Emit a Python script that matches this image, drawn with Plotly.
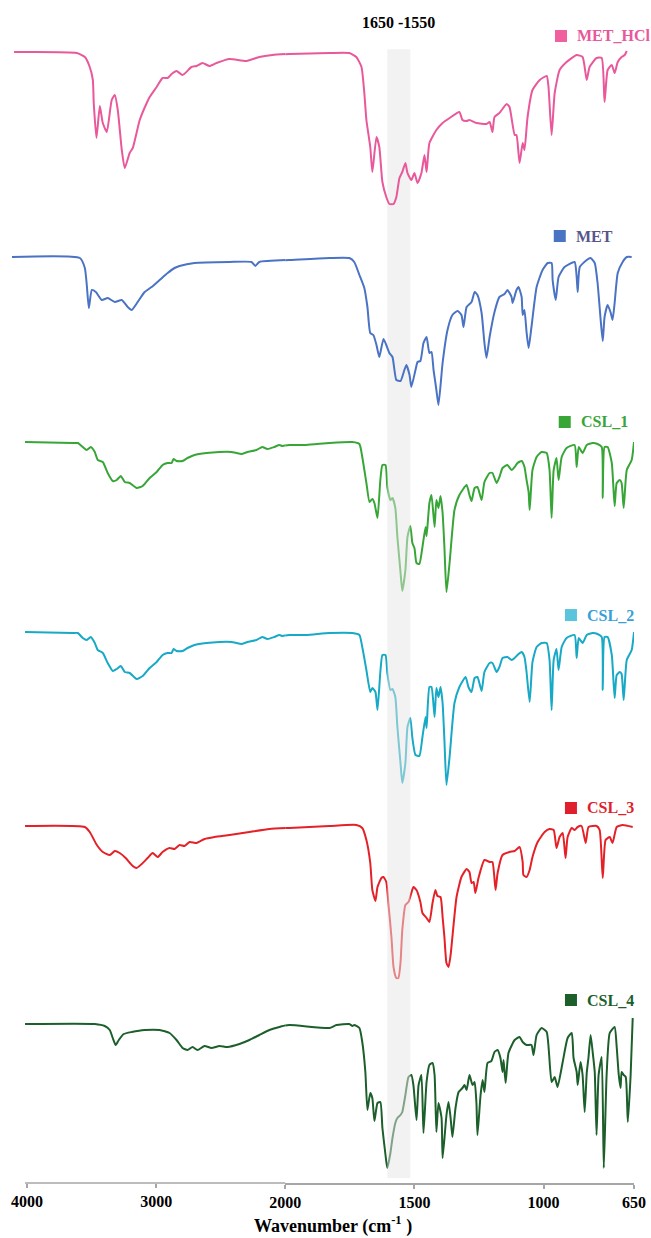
import plotly.graph_objects as go

# ---- FTIR spectra: (wavenumber in cm^-1, transmittance relative to baseline, a.u.) ----
MET_HCL = [
    (4100, 1), (3614, 0), (3552, -4), (3514, -14), (3490, -27), (3483, -50), (3462, -85),
    (3436, -53), (3413, -70), (3382, -79), (3344, -47), (3320, -42), (3297, -57), (3266, -97),
    (3243, -115), (3205, -100), (3181, -95), (3127, -67), (3073, -50), (3050, -44), (2996, -34),
    (2950, -25), (2911, -25), (2880, -21), (2842, -18), (2795, -22), (2726, -14), (2687, -13),
    (2641, -10), (2587, -13), (2533, -10), (2432, -6), (2301, -8), (2201, -4), (2100, -2),
    (1984, -1), (1829, 0), (1752, 0), (1725, -4), (1705, -14), (1694, -40), (1686, -67),
    (1671, -94), (1663, -119), (1647, -84), (1636, -94), (1624, -129), (1609, -144),
    (1597, -151), (1581, -151), (1570, -144), (1558, -125), (1547, -119), (1535, -110),
    (1527, -120), (1512, -127), (1500, -120), (1488, -130), (1473, -120), (1461, -102),
    (1453, -119), (1442, -90), (1415, -77), (1391, -70), (1364, -65), (1326, -59), (1314, -67),
    (1298, -68), (1287, -67), (1260, -70), (1221, -71), (1209, -69), (1198, -79), (1190, -64),
    (1171, -60), (1143, -51), (1132, -54), (1112, -82), (1105, -82), (1093, -110), (1081, -90),
    (1074, -97), (1062, -64), (1043, -37), (1015, -27), (988, -23), (981, -34), (969, -82),
    (957, -40), (938, -17), (911, -9), (872, -2), (849, -4), (833, -27), (822, -14), (795, -5),
    (775, -5), (764, -49), (752, -17), (736, -12), (725, -20), (713, -9), (698, -4), (686, -2),
    (678, 2),
]

MET = [
    (4116, 1), (3591, 0), (3552, -10), (3537, -27), (3521, -50), (3498, -32), (3467, -34),
    (3421, -42), (3375, -40), (3320, -44), (3266, -42), (3220, -49), (3189, -52), (3143, -44),
    (3089, -34), (3035, -29), (2973, -22), (2911, -15), (2857, -10), (2819, -8), (2703, -5),
    (2432, -4), (2262, -4), (2232, -8), (2201, -4), (1984, -2), (1829, 0), (1752, 0),
    (1733, -4), (1713, -17), (1694, -30), (1682, -49), (1671, -75), (1659, -77), (1647, -87),
    (1636, -99), (1620, -81), (1609, -87), (1597, -95), (1585, -99), (1570, -122), (1554, -123),
    (1539, -112), (1531, -107), (1519, -117), (1512, -129), (1496, -112), (1488, -104),
    (1477, -103), (1465, -85), (1453, -79), (1442, -95), (1434, -94), (1426, -112),
    (1415, -132), (1407, -147), (1391, -105), (1372, -72), (1353, -57), (1333, -53),
    (1318, -57), (1310, -69), (1298, -49), (1279, -44), (1267, -34), (1256, -37), (1240, -55),
    (1229, -85), (1221, -100), (1209, -79), (1190, -54), (1171, -39), (1151, -36), (1140, -32),
    (1124, -39), (1120, -45), (1105, -32), (1097, -29), (1085, -39), (1081, -57), (1074, -52),
    (1066, -74), (1058, -90), (1047, -69), (1027, -29), (1004, -12), (984, -5), (969, -5),
    (965, -22), (953, -42), (942, -19), (919, -9), (880, -4), (872, -19), (868, -34), (860, -9),
    (833, -2), (818, 0), (802, -5), (791, -25), (779, -62), (771, -83), (764, -59), (752, -47),
    (740, -55), (733, -62), (725, -45), (713, -15), (694, -4), (678, 1), (659, 1),
]

CSL_1 = [
    (4015, 1), (3645, 0), (3606, 0), (3568, -4), (3537, -7), (3506, -4), (3475, -9), (3452, -17),
    (3413, -19), (3375, -30), (3336, -38), (3305, -37), (3274, -33), (3243, -39), (3205, -40),
    (3151, -45), (3104, -43), (3050, -35), (2996, -29), (2950, -22), (2911, -20), (2880, -20),
    (2865, -16), (2842, -18), (2795, -18), (2757, -15), (2703, -12), (2610, -10), (2510, -9),
    (2417, -9), (2378, -10), (2340, -11), (2293, -9), (2224, -7), (2178, -4), (2139, -6),
    (2085, -4), (2046, -2), (2023, -3), (1984, -2), (1919, -2), (1829, 0), (1740, 1),
    (1713, -1), (1702, -14), (1686, -40), (1674, -59), (1663, -56), (1655, -60), (1643, -75),
    (1632, -37), (1624, -22), (1612, -22), (1605, -44), (1593, -57), (1585, -55), (1574, -65),
    (1566, -94), (1554, -129), (1547, -148), (1535, -127), (1527, -94), (1516, -83),
    (1508, -100), (1500, -105), (1492, -120), (1481, -121), (1469, -104), (1457, -84),
    (1453, -93), (1442, -60), (1434, -52), (1422, -84), (1415, -57), (1407, -65), (1399, -53),
    (1391, -70), (1384, -104), (1376, -149), (1364, -120), (1345, -67), (1326, -52),
    (1298, -42), (1287, -52), (1279, -58), (1267, -45), (1256, -44), (1240, -57), (1229, -39),
    (1209, -30), (1198, -30), (1182, -40), (1171, -34), (1159, -25), (1140, -22), (1124, -27),
    (1112, -24), (1101, -20), (1085, -18), (1074, -24), (1066, -37), (1058, -49), (1054, -67),
    (1043, -27), (1027, -14), (1008, -9), (988, -10), (977, -27), (969, -75), (961, -27),
    (950, -15), (942, -37), (930, -14), (911, -5), (880, -2), (872, -24), (864, -4), (849, -10),
    (833, -2), (810, 0), (791, -1), (775, -4), (771, -55), (764, -4), (752, -4), (736, -20),
    (725, -63), (717, -40), (705, -37), (698, -40), (690, -65), (678, -27), (659, -17),
    (650, 1),
]

CSL_2 = [
    (4015, 1), (3645, 0), (3606, 0), (3568, -5), (3537, -7), (3506, -4), (3475, -10), (3452, -17),
    (3413, -20), (3375, -30), (3336, -38), (3305, -36), (3274, -33), (3243, -39), (3205, -40),
    (3151, -46), (3104, -43), (3050, -35), (2996, -29), (2950, -22), (2911, -20), (2880, -20),
    (2865, -16), (2842, -18), (2795, -18), (2757, -15), (2703, -12), (2610, -10), (2510, -9),
    (2417, -9), (2378, -10), (2340, -11), (2293, -9), (2224, -7), (2178, -4), (2139, -6),
    (2085, -4), (2046, -2), (2023, -3), (1984, -2), (1919, -2), (1829, 0), (1740, 0),
    (1713, -2), (1702, -14), (1686, -37), (1671, -59), (1663, -55), (1651, -59), (1643, -77),
    (1632, -39), (1624, -22), (1612, -22), (1605, -40), (1593, -57), (1585, -56), (1574, -64),
    (1566, -94), (1554, -130), (1547, -150), (1535, -130), (1527, -94), (1516, -85),
    (1508, -105), (1496, -122), (1481, -123), (1469, -104), (1457, -84), (1453, -95),
    (1442, -54), (1434, -54), (1422, -84), (1415, -55), (1407, -64), (1399, -54), (1391, -70),
    (1384, -107), (1376, -152), (1364, -124), (1345, -70), (1326, -54), (1302, -44),
    (1291, -54), (1279, -59), (1267, -45), (1256, -44), (1240, -58), (1229, -39), (1209, -30),
    (1198, -30), (1182, -39), (1171, -34), (1159, -25), (1140, -24), (1124, -27), (1112, -25),
    (1101, -22), (1085, -19), (1074, -24), (1066, -39), (1054, -69), (1043, -29), (1027, -14),
    (1008, -10), (988, -10), (977, -27), (969, -77), (961, -27), (950, -16), (942, -37),
    (930, -14), (911, -5), (880, -2), (872, -25), (864, -5), (849, -10), (833, -2), (810, 0),
    (791, -1), (775, -4), (771, -57), (764, -4), (752, -4), (736, -22), (725, -65), (717, -42),
    (705, -39), (698, -41), (690, -67), (678, -27), (659, -17), (650, 1),
]

CSL_3 = [
    (4015, 0), (3552, -1), (3514, -6), (3459, -19), (3413, -26), (3359, -29), (3320, -25),
    (3282, -27), (3236, -32), (3181, -40), (3151, -42), (3112, -38), (3066, -32), (3027, -27),
    (2988, -31), (2950, -26), (2896, -22), (2857, -23), (2819, -19), (2780, -20), (2741, -16),
    (2687, -17), (2625, -13), (2548, -11), (2432, -9), (2278, -6), (2123, -3), (1984, -2),
    (1829, 0), (1725, 1), (1702, -2), (1686, -14), (1671, -37), (1663, -64), (1651, -75),
    (1643, -61), (1628, -52), (1620, -51), (1609, -56), (1601, -77), (1589, -111), (1581, -141),
    (1570, -152), (1562, -152), (1554, -137), (1547, -104), (1535, -79), (1523, -76),
    (1512, -67), (1504, -61), (1492, -64), (1477, -76), (1469, -87), (1453, -92), (1442, -96),
    (1430, -77), (1419, -64), (1411, -70), (1399, -71), (1391, -91), (1384, -111),
    (1376, -137), (1368, -141), (1360, -129), (1353, -111), (1337, -71), (1318, -51),
    (1298, -43), (1287, -46), (1279, -57), (1271, -56), (1264, -67), (1252, -52), (1229, -34),
    (1209, -36), (1198, -36), (1186, -64), (1178, -47), (1159, -29), (1132, -26), (1112, -25),
    (1093, -21), (1081, -36), (1078, -49), (1066, -51), (1054, -44), (1043, -31), (1023, -16),
    (996, -6), (977, -3), (961, -4), (950, -22), (938, -11), (926, -7), (915, -32), (907, -11),
    (891, -2), (880, -4), (868, -1), (853, 0), (837, -17), (826, -1), (795, 0), (783, -4),
    (771, -52), (760, -14), (744, -11), (733, -17), (717, -1), (694, 1), (655, -1),
]

CSL_4 = [
    (4015, 1), (3475, 1), (3398, -1), (3359, -5), (3336, -13), (3313, -20), (3289, -15),
    (3251, -9), (3189, -7), (3089, -5), (2973, -5), (2896, -8), (2842, -15), (2795, -23),
    (2757, -25), (2718, -22), (2680, -25), (2625, -21), (2572, -23), (2510, -21), (2448, -22),
    (2355, -19), (2278, -15), (2201, -10), (2123, -5), (2046, -2), (1984, 0), (1829, -3),
    (1802, 0), (1752, 1), (1740, -1), (1733, 0), (1713, -3), (1702, -17), (1690, -47),
    (1682, -85), (1671, -68), (1663, -73), (1655, -96), (1643, -78), (1632, -77), (1624, -103),
    (1612, -130), (1605, -143), (1593, -128), (1585, -113), (1574, -98), (1566, -93),
    (1554, -90), (1547, -87), (1535, -70), (1523, -52), (1512, -50), (1504, -60), (1492, -95),
    (1484, -60), (1473, -50), (1465, -108), (1453, -57), (1442, -40), (1430, -38), (1422, -50),
    (1415, -107), (1407, -78), (1395, -93), (1391, -133), (1376, -90), (1368, -77), (1360, -93),
    (1353, -112), (1341, -83), (1329, -67), (1314, -63), (1306, -60), (1298, -65), (1287, -50),
    (1275, -60), (1267, -57), (1260, -78), (1256, -110), (1244, -70), (1236, -55), (1229, -67),
    (1217, -38), (1202, -36), (1190, -27), (1178, -25), (1167, -33), (1159, -47), (1155, -35),
    (1147, -58), (1136, -28), (1112, -15), (1093, -12), (1081, -17), (1066, -20), (1047, -20),
    (1039, -30), (1027, -10), (1008, -3), (988, -7), (969, -57), (957, -52), (946, -62),
    (926, -37), (907, -13), (891, -8), (884, -33), (872, -47), (868, -60), (857, -37),
    (849, -50), (841, -87), (833, -48), (826, -32), (818, -10), (810, -27), (802, -47),
    (795, -110), (787, -50), (775, -32), (767, -143), (756, -50), (744, -8), (725, -2),
    (717, -22), (709, -50), (702, -63), (698, -47), (690, -50), (682, -52), (674, -97),
    (663, -50), (655, 7),
]

SERIES = {
    "MET_HCl": MET_HCL,
    "MET": MET,
    "CSL_1": CSL_1,
    "CSL_2": CSL_2,
    "CSL_3": CSL_3,
    "CSL_4": CSL_4,
}

TICKS_HIGH = [4000, 3000]              # 1x scale section
TICKS_LOW = [2000, 1500, 1000, 650]    # 2x expanded section
BAND = (1605, 1516)
BAND_LABEL = "1650 -1550"
X_TITLE = "Wavenumber (cm<sup>-1</sup> )"

# ---- styling / layout ----
SPLIT = 2000          # the wavenumber scale is doubled below this value
X_START, X_END = 4116, 650
Y_SPAN = 1143
OFFSETS = {"MET_HCl": 1130, "MET": 925, "CSL_1": 740, "CSL_2": 550, "CSL_3": 357, "CSL_4": 158}
LINE_COLORS = {
    "MET_HCl": "#E8589B", "MET": "#4A73C4", "CSL_1": "#37A637",
    "CSL_2": "#17A9C5", "CSL_3": "#E52128", "CSL_4": "#1C5F2B",
}
SWATCH_COLORS = {
    "MET_HCl": "#F0609E", "MET": "#4A73C4", "CSL_1": "#37A637",
    "CSL_2": "#5BC4DC", "CSL_3": "#E01F2D", "CSL_4": "#1C5F2B",
}
TEXT_COLORS = {
    "MET_HCl": "#E8589B", "MET": "#56568C", "CSL_1": "#37A637",
    "CSL_2": "#3A9FD6", "CSL_3": "#E01F2D", "CSL_4": "#1C5F2B",
}
# label placement: paper x of the swatch, paper y of the label centre
LABEL_X = {"MET_HCl": 0.873, "MET": 0.871, "CSL_1": 0.879, "CSL_2": 0.889, "CSL_3": 0.889, "CSL_4": 0.889}
LABEL_Y = {"MET_HCl": 1.0035, "MET": 0.8285, "CSL_1": 0.6658, "CSL_2": 0.4969, "CSL_3": 0.3281, "CSL_4": 0.1601}
SWATCH = 12
SERIF = "Liberation Serif, Times New Roman, serif"
AXIS_GREY = "#A6A6A6"
BAND_GREY = "#F2F2F2"


def split_at_break(points):
    """Return the part drawn on the 1x axis and the part on the 2x axis.
    One neighbour is carried across the break so the line stays continuous."""
    high = [p for p in points if p[0] >= SPLIT]
    low = [p for p in points if p[0] <= SPLIT]
    first_low = next(p for p in points if p[0] < SPLIT)
    last_high = [p for p in points if p[0] > SPLIT][-1]
    return high + [first_low], [last_high] + low


span_high = X_START - SPLIT
span_low = SPLIT - X_END
x_break = span_high / (span_high + 2 * span_low)

fig = go.Figure()
for name, pts in SERIES.items():
    high, low = split_at_break(pts)
    for part, xa in ((high, "x"), (low, "x2")):
        fig.add_trace(go.Scatter(
            x=[p[0] for p in part],
            y=[OFFSETS[name] + p[1] for p in part],
            mode="lines", xaxis=xa, yaxis="y",
            line=dict(color=LINE_COLORS[name], width=2, shape="spline", smoothing=0.5),
            hoverinfo="skip", showlegend=False,
        ))

tickfont = dict(family=SERIF, size=16, color="black", weight="bold")
common_x = dict(ticks="outside", ticklen=4, tickcolor=AXIS_GREY, tickwidth=1.5,
                showgrid=False, zeroline=False, tickfont=tickfont,
                ticklabelstandoff=0, automargin=False, fixedrange=True)
fig.update_layout(
    width=651, height=1238,
    margin=dict(l=12, r=17, t=40, b=55, autoexpand=False),
    paper_bgcolor="white", plot_bgcolor="white",
    showlegend=False,
    xaxis=dict(domain=[0, x_break], range=[X_START, SPLIT], anchor="y",
               tickvals=TICKS_HIGH, ticktext=[str(v) for v in TICKS_HIGH],
               showline=False, **common_x),
    xaxis2=dict(domain=[x_break, 1], range=[SPLIT, X_END], anchor="y",
                tickvals=TICKS_LOW, ticktext=[str(v) for v in TICKS_LOW],
                showline=True, linecolor=AXIS_GREY, linewidth=1.5, **common_x),
    yaxis=dict(range=[0, Y_SPAN], visible=False, fixedrange=True, automargin=False),
)

# axis line for the 1x section starts at 4000
fig.add_shape(type="line", xref="x", yref="paper", x0=4015, x1=SPLIT, y0=0, y1=0,
              line=dict(color=AXIS_GREY, width=1.5), layer="above")

# highlighted band: behind the two reference spectra, washing over the composites
band_top = 0.992
band_mid = 0.663
fig.add_shape(type="rect", xref="x2", yref="paper", x0=BAND[0], x1=BAND[1],
              y0=band_mid, y1=band_top, fillcolor=BAND_GREY, line_width=0, layer="below")
fig.add_shape(type="rect", xref="x2", yref="paper", x0=BAND[0], x1=BAND[1],
              y0=0.0044, y1=band_mid, fillcolor="#E6E6E6", opacity=0.5, line_width=0,
              layer="above")

fig.add_annotation(x=(BAND[0] + BAND[1]) / 2, xref="x2", y=1.015, yref="paper",
                   text=f"<b>{BAND_LABEL}</b>", showarrow=False,
                   font=dict(family=SERIF, size=16, color="black"),
                   xanchor="center", yanchor="middle")

for name in SERIES:
    # colour swatch, fixed pixel size anchored at the label position
    fig.add_shape(type="rect", xref="paper", yref="paper",
                  xsizemode="pixel", ysizemode="pixel",
                  xanchor=LABEL_X[name], yanchor=LABEL_Y[name],
                  x0=0, x1=SWATCH, y0=-SWATCH / 2, y1=SWATCH / 2,
                  fillcolor=SWATCH_COLORS[name], line_width=0)
    fig.add_annotation(
        x=LABEL_X[name], xref="paper", y=LABEL_Y[name], yref="paper", xshift=SWATCH + 8,
        text=f"<b>{name}</b>", showarrow=False, xanchor="left", yanchor="middle",
        font=dict(family=SERIF, size=16, color=TEXT_COLORS[name]),
    )

fig.add_annotation(x=0.516, xref="paper", y=-0.037, yref="paper", text=f"<b>{X_TITLE}</b>",
                   showarrow=False, xanchor="center", yanchor="middle",
                   font=dict(family=SERIF, size=18, color="black"))

fig.write_html("out.html")
